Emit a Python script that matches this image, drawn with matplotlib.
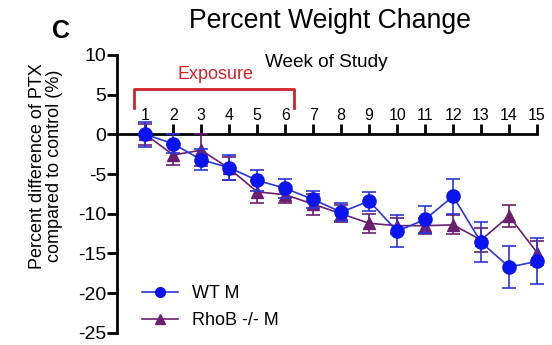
import matplotlib
matplotlib.use('Agg')
import matplotlib.pyplot as plt
from matplotlib.lines import Line2D

plt.rcParams['font.family'] = ['Liberation Sans', 'DejaVu Sans']
plt.rcParams['axes.unicode_minus'] = False

weeks = list(range(1, 16))
wt_mean = [0, -1.2, -3.2, -4.2, -5.8, -6.8, -8.2, -9.8, -8.4, -12.2, -10.7, -7.8, -13.6, -16.7, -16.0]
wt_sem = [1.6, 1.2, 1.3, 1.6, 1.3, 1.2, 1.1, 1.1, 1.2, 2.0, 1.7, 2.2, 2.5, 2.7, 2.9]
rhob_mean = [0, -2.6, -2.0, -4.3, -7.25, -7.6, -8.8, -10.0, -11.2, -11.5, -11.5, -11.4, -13.3, -10.3, -14.9]
rhob_sem = [1.3, 1.3, 2.0, 1.5, 1.4, 1.1, 1.3, 1.1, 1.2, 1.0, 1.0, 1.2, 1.5, 1.4, 1.5]
y_ticks = [10, 5, 0, -5, -10, -15, -20, -25]

fig = plt.figure(figsize=(5.52, 3.45), dpi=100)
ax = fig.add_axes([0.2125, 0.035, 0.7605, 0.806])

purple = '#6b1f70'
blue = '#0a14f0'
blue_line = '#2b35d8'

ax.errorbar(weeks, rhob_mean, yerr=rhob_sem, color=purple, marker='^', markersize=8,
            linewidth=1.2, elinewidth=1.2, capsize=5, capthick=1.2,
            clip_on=False, zorder=3)
ax.errorbar(weeks, wt_mean, yerr=wt_sem, color=blue_line, marker='o', markersize=9.5,
            markerfacecolor=blue, markeredgecolor=blue,
            linewidth=1.2, elinewidth=1.2, capsize=5, capthick=1.2,
            clip_on=False, zorder=4)

ax.set_xlim(0, 15)
ax.set_ylim(-25, 10)
ax.set_yticks(y_ticks)
ax.set_xticks(weeks)

ax.spines['right'].set_visible(False)
ax.spines['bottom'].set_visible(False)
ax.spines['top'].set_position(('data', 0))
ax.spines['top'].set_linewidth(2)
ax.spines['left'].set_linewidth(2)
ax.xaxis.set_ticks_position('top')
ax.tick_params(axis='x', direction='out', length=7, width=2, labelsize=11.5, pad=1)
ax.tick_params(axis='y', direction='out', length=7, width=2, labelsize=14, pad=1)

ax.set_ylabel('Percent difference of PTX\ncompared to control (%)', fontsize=13, linespacing=1.0)
ax.yaxis.set_label_coords(-0.13, 0.6)

# exposure bracket
ax.plot([0.6, 0.6, 6.3, 6.3], [3.3, 5.7, 5.7, 3.3], color='#d2232a', linewidth=2, clip_on=False)
ax.text(3.5, 6.5, 'Exposure', color='#d2232a', fontsize=13, ha='center', va='bottom')
ax.text(7.47, 8.0, 'Week of Study', fontsize=13.7, ha='center', va='bottom')

fig.text(0.598, 0.94, 'Percent Weight Change', fontsize=19.2, ha='center', va='center')
fig.text(0.11, 0.91, 'C', fontsize=18, fontweight='bold', ha='center', va='center')

handles = [
    Line2D([], [], color=blue_line, marker='o', markersize=7, markerfacecolor=blue,
           markeredgecolor=blue, linewidth=1.2),
    Line2D([], [], color=purple, marker='^', markersize=7, linewidth=1.2),
]
ax.legend(handles, ['WT M', 'RhoB -/- M'], loc='lower left', bbox_to_anchor=(0.019, -0.045),
          frameon=False, fontsize=13, handlelength=2.0, handletextpad=0.8, labelspacing=0.55)

fig.savefig('out.png', dpi=100)
